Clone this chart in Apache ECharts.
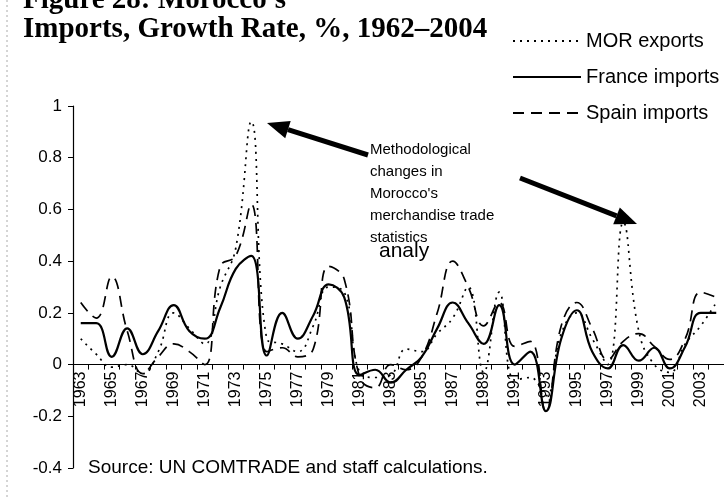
<!DOCTYPE html>
<html>
<head>
<meta charset="utf-8">
<script src="https://cdn.jsdelivr.net/npm/echarts@6/dist/echarts.min.js"></script>
<style>
  html, body { margin: 0; padding: 0; background: #fff; }
  #chart { width: 724px; height: 498px; }
</style>
</head>
<body>
<div id="chart"></div>
<script>
// growth rates, 1963-2004
const years = [
  "1963", "1964", "1965", "1966", "1967", "1968", "1969", "1970", "1971", "1972",
  "1973", "1974", "1975", "1976", "1977", "1978", "1979", "1980", "1981", "1982",
  "1983", "1984", "1985", "1986", "1987", "1988", "1989", "1990", "1991", "1992",
  "1993", "1994", "1995", "1996", "1997", "1998", "1999", "2000", "2001", "2002",
  "2003", "2004"
];

const morExports = [
  0.10, 0.04, -0.01, 0.0, -0.035, 0.05, 0.20, 0.14, 0.08, 0.30,
  0.45, 0.94, 0.10, 0.08, 0.05, 0.15, 0.30, 0.28, -0.03, -0.05,
  -0.04, 0.06, 0.05, 0.12, 0.18, 0.30, -0.03, 0.28, -0.06, -0.05,
  -0.12, 0.12, 0.20, 0.10, 0.0, 0.55, 0.13, 0.0, -0.03, 0.08,
  0.15, 0.24
];

const franceImports = [
  0.16, 0.16, 0.03, 0.14, 0.04, 0.13, 0.23, 0.13, 0.10, 0.22,
  0.37, 0.42, 0.035, 0.20, 0.10, 0.19, 0.31, 0.26, -0.04, -0.02,
  -0.07, -0.02, 0.03, 0.14, 0.24, 0.16, 0.08, 0.23, 0.0, 0.05,
  -0.18, 0.10, 0.21, 0.05, -0.015, 0.075, 0.015, 0.065, -0.015, 0.07,
  0.20, 0.20
];

const spainImports = [
  0.24, 0.18, 0.34, 0.13, -0.035, 0.03, 0.08, 0.05, 0.0, 0.38,
  0.42, 0.62, 0.05, 0.065, 0.03, 0.06, 0.38, 0.33, -0.05, -0.09,
  0.0, -0.02, 0.03, 0.20, 0.40, 0.30, 0.15, 0.24, 0.07, 0.09,
  -0.18, 0.15, 0.24, 0.14, 0.02, 0.09, 0.12, 0.07, 0.02, 0.10,
  0.28, 0.26
];

const noteLines = [
  "Methodological",
  "changes in",
  "Morocco's",
  "merchandise trade",
  "statistics"
];

const sans = "Arial, 'Liberation Sans', sans-serif";
const serif = "'Times New Roman', 'Liberation Serif', serif";

// grid box, y range -0.4..1; x axis sits on the zero line
const gridTop = 106, gridBottom = 30, chartH = 498;
const plotH = chartH - gridTop - gridBottom;
const zeroOffset = -plotH * (0.4 / 1.4);

function arrow(tail, tip) {
  const dx = tip[0] - tail[0];
  const dy = tip[1] - tail[1];
  const len = Math.sqrt(dx * dx + dy * dy);
  const ux = dx / len, uy = dy / len;
  const head = 22, half = 9;
  const bx = tip[0] - head * ux, by = tip[1] - head * uy;
  return [
    {
      type: "line",
      shape: { x1: tail[0], y1: tail[1], x2: bx, y2: by },
      style: { stroke: "#000", lineWidth: 5 }
    },
    {
      type: "polygon",
      shape: {
        points: [tip, [bx - half * uy, by + half * ux], [bx + half * uy, by - half * ux]]
      },
      style: { fill: "#000" }
    }
  ];
}

function lineSeries(name, data, width, type) {
  return {
    name,
    type: "line",
    data,
    smooth: 0.45,
    symbol: "none",
    lineStyle: { color: "#000", width, type },
    itemStyle: { color: "#000" }
  };
}

const chart = echarts.init(document.getElementById("chart"), null, { renderer: "canvas" });

chart.setOption({
  backgroundColor: "#fff",
  animation: false,
  grid: {
    left: 73, right: 0, top: gridTop, bottom: gridBottom,
    containLabel: false,
    outerBoundsMode: "none"
  },
  legend: {
    orient: "vertical",
    left: 512,
    top: 31,
    padding: 0,
    itemWidth: 68,
    itemHeight: 14,
    itemGap: 16,
    itemStyle: { opacity: 0 },
    textStyle: { fontFamily: sans, fontSize: 20, color: "#000" },
    data: ["MOR exports", "France imports", "Spain imports"]
  },
  xAxis: {
    type: "category",
    data: years,
    boundaryGap: true,
    position: "bottom",
    offset: zeroOffset,
    axisLine: { onZero: false, lineStyle: { color: "#000", width: 1.2 } },
    axisTick: { show: true, interval: 0, length: 5, lineStyle: { color: "#000" } },
    axisLabel: {
      interval: 1,
      rotate: 90,
      margin: 7,
      fontFamily: sans,
      fontSize: 16,
      color: "#000"
    },
    splitLine: { show: false }
  },
  yAxis: {
    type: "value",
    min: -0.4,
    max: 1,
    interval: 0.2,
    axisLine: { show: true, lineStyle: { color: "#000", width: 1.2 } },
    axisTick: { show: true, length: 5, lineStyle: { color: "#000" } },
    axisLabel: {
      margin: 11,
      fontFamily: sans,
      fontSize: 17,
      color: "#000",
      formatter: (v) => String(Math.round(v * 10) / 10)
    },
    splitLine: { show: false }
  },
  series: [
    lineSeries("MOR exports", morExports, 1.7, [2, 5]),
    lineSeries("France imports", franceImports, 2.2, "solid"),
    lineSeries("Spain imports", spainImports, 1.7, [11, 7])
  ],
  graphic: [
    {
      type: "line",
      shape: { x1: 7, y1: 0, x2: 7, y2: 498 },
      style: { stroke: "#aaa", lineWidth: 1, lineDash: [2, 3] }
    },
    {
      type: "text",
      left: 23,
      top: -14,
      style: { text: "Figure 28: Morocco's", font: "bold 29px " + serif, fill: "#000" }
    },
    {
      type: "text",
      left: 23,
      top: 15,
      style: { text: "Imports, Growth Rate, %, 1962\u20132004", font: "bold 29px " + serif, fill: "#000" }
    },
    ...noteLines.map((t, i) => ({
      type: "text",
      left: 370,
      top: 142 + i * 22,
      style: { text: t, font: "15px " + sans, fill: "#000" }
    })),
    {
      type: "text",
      left: 379,
      top: 241,
      style: { text: "analy", font: "21px " + sans, fill: "#000" }
    },
    ...arrow([368, 155], [267, 123]),
    ...arrow([520, 178], [637, 224]),
    {
      type: "text",
      left: 88,
      top: 458,
      style: { text: "Source: UN COMTRADE and staff calculations.", font: "19px " + sans, fill: "#000" }
    }
  ]
});
</script>
</body>
</html>
